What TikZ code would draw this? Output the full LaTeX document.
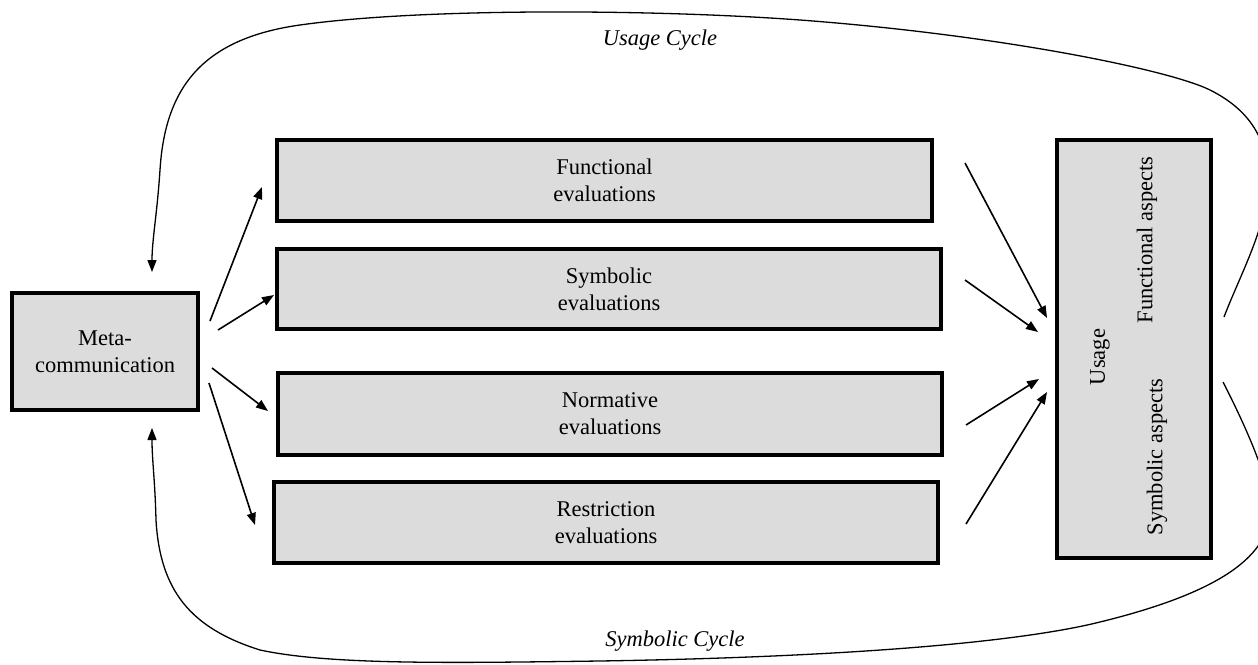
\documentclass[tikz,border=0pt]{standalone}
\usepackage{fontspec}
\setmainfont{Liberation Serif}
\usetikzlibrary{arrows.meta}
\definecolor{boxgray}{HTML}{DCDCDC}
\tikzset{
  box/.style={draw=black, line width=3.4pt, fill=boxgray, align=center, inner sep=0pt,
    font=\fontsize{22.5}{27}\selectfont},
  arr/.style={line width=1.6pt, -{Triangle[length=12pt,width=9pt]}},
  cyc/.style={line width=1.3pt, -{Triangle[length=12pt,width=9pt]}},
  rlab/.style={rotate=90, font=\fontsize{22.5}{27}\selectfont, inner sep=0pt},
  clab/.style={font=\fontsize{22.5}{27}\selectfont\itshape, inner sep=0pt}
}
\begin{document}
\begin{tikzpicture}[x=1pt,y=-1pt]
\useasboundingbox (0,0) rectangle (1258,664);
\clip (0,0) rectangle (1258,664);
% boxes
\node[box, minimum width=186pt, minimum height=117pt] (meta) at (105,351.5) {Meta-\\communication};
\node[box, minimum width=655pt, minimum height=81pt] (fe) at (604.5,180.5) {Functional\\evaluations};
\node[box, minimum width=664pt, minimum height=80pt] (se) at (609,289) {Symbolic\\evaluations};
\node[box, minimum width=664pt, minimum height=82pt] (ne) at (610,414) {Normative\\evaluations};
\node[box, minimum width=664pt, minimum height=81pt] (re) at (606,522.5) {Restriction\\evaluations};
\node[box, minimum width=154pt, minimum height=418pt] (usage) at (1134,349) {};
\node[rlab] (ulab) at (1100,357) {Usage};
\node[rlab] (fa) at (1147,240) {Functional aspects};
\node[rlab] (sa) at (1157,457) {Symbolic aspects};
% cycle labels
\node[clab] (uc) at (660,40) {Usage Cycle};
\node[clab] (sc) at (675,641) {Symbolic Cycle};
% arrow end points
\coordinate (m1) at (210,321);
\coordinate (m2) at (218,330);
\coordinate (m3) at (212,368);
\coordinate (m4) at (209,383);
\coordinate (t1) at (262,187);
\coordinate (t2) at (274,295);
\coordinate (t3) at (268,411);
\coordinate (t4) at (255,525);
\coordinate (f1) at (965,163);
\coordinate (f2) at (965,280);
\coordinate (f3) at (966,425);
\coordinate (f4) at (966,524);
\coordinate (u1) at (1047,318);
\coordinate (u2) at (1038,332);
\coordinate (u3) at (1039,379);
\coordinate (u4) at (1047,392);
\draw[arr] (m1) -- (t1);
\draw[arr] (m2) -- (t2);
\draw[arr] (m3) -- (t3);
\draw[arr] (m4) -- (t4);
\draw[arr] (f1) -- (u1);
\draw[arr] (f2) -- (u2);
\draw[arr] (f3) -- (u3);
\draw[arr] (f4) -- (u4);
% cycles
\coordinate (ucs) at (1224,317);
\coordinate (uce) at (152,272);
\coordinate (scs) at (1223,382);
\coordinate (sce) at (152,428);
\draw[cyc] (ucs) .. controls (1240,275) and (1268,225) .. (1268,180)
  .. controls (1268,140) and (1250,110) .. (1210,90)
  .. controls (1170,70) and (1000,35) .. (800,20)
  .. controls (650,9) and (420,8) .. (300,25)
  .. controls (200,39) and (165,90) .. (160,170)
  .. controls (157,215) and (152,240) .. (uce);
\draw[cyc] (scs) .. controls (1245,425) and (1270,480) .. (1270,510)
  .. controls (1270,560) and (1210,595) .. (1100,622)
  .. controls (1020,642) and (850,657) .. (600,661)
  .. controls (450,663) and (330,665) .. (260,650)
  .. controls (190,628) and (160,590) .. (156,520)
  .. controls (155,480) and (152,460) .. (sce);
\end{tikzpicture}
\end{document}
